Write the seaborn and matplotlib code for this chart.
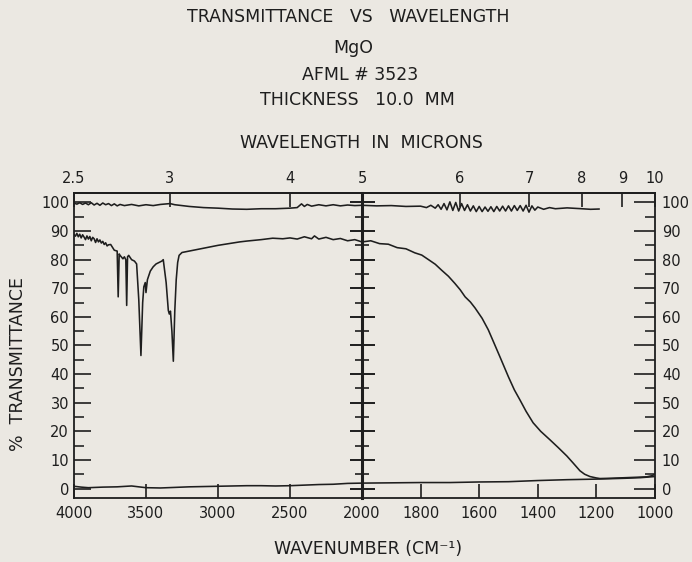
import numpy as np
import pandas as pd
import seaborn as sns
import matplotlib
matplotlib.use("Agg")
from matplotlib import pyplot as plt
from matplotlib.ticker import FixedLocator, MultipleLocator, NullFormatter

sns.set_style("ticks")
plt.rcParams['font.family'] = ['DejaVu Sans']

INK = '#1e1e1e'
PAPER = '#ebe8e2'

# sample spectrum, wavenumber (cm-1) vs % transmittance
sample_wn = [4000, 3990, 3980, 3970, 3960, 3950, 3940, 3930, 3920, 3910, 3900, 3890,
             3880, 3870, 3860, 3850, 3840, 3830, 3820, 3810, 3800, 3790, 3780, 3770,
             3760, 3745, 3720, 3700, 3693, 3686, 3680, 3660, 3650, 3640, 3634, 3628,
             3620, 3600, 3580, 3565, 3550, 3535, 3523, 3515, 3505, 3500, 3490, 3470,
             3450, 3430, 3410, 3390, 3380, 3360, 3345, 3338, 3330, 3320, 3310, 3300,
             3290, 3280, 3270, 3250, 3200, 3150, 3100, 3000, 2900, 2850, 2800, 2700,
             2620, 2550, 2500, 2450, 2400, 2350, 2330, 2300, 2250, 2200, 2150, 2100,
             2050, 2000, 1970, 1940, 1910, 1880, 1850, 1820, 1796, 1770, 1750, 1728,
             1705, 1683, 1665, 1648, 1630, 1614, 1590, 1569, 1550, 1529, 1500, 1480,
             1461, 1440, 1416, 1390, 1358, 1330, 1301, 1280, 1256, 1240, 1222, 1200,
             1188, 1150, 1100, 1050, 1028, 1010, 1000]
sample_t = [88.8, 88.2, 89.2, 88.0, 88.9, 87.6, 88.7, 87.9, 87.0, 88.3, 87.2, 88.1,
            86.6, 87.8, 87.3, 86.0, 87.3, 86.2, 86.9, 85.8, 86.4, 85.3, 85.9, 84.8,
            85.2, 85.3, 83.3, 83.0, 67.0, 82.0, 81.5, 80.3, 81.0, 80.0, 64.0, 81.0,
            81.5, 80.0, 79.5, 78.5, 66.0, 46.5, 65.0, 70.5, 72.0, 68.5, 73.0, 76.0,
            77.5, 78.5, 79.0, 79.5, 80.0, 72.0, 62.3, 61.0, 62.0, 55.0, 44.5, 62.0,
            73.0, 79.0, 81.5, 82.5, 83.0, 83.5, 84.0, 85.0, 85.8, 86.2, 86.5, 87.0,
            87.5, 87.3, 87.6, 87.2, 88.0, 87.3, 88.3, 87.2, 87.8, 87.0, 87.4, 86.6,
            87.0, 86.2, 86.6, 85.6, 85.4, 84.2, 83.8, 82.4, 81.6, 79.8, 78.4, 76.3,
            74.2, 71.7, 69.5, 67.0, 65.2, 63.1, 59.5, 55.5, 51.0, 46.0, 39.0, 34.5,
            31.0, 27.0, 23.0, 20.0, 17.0, 14.3, 11.4, 9.0, 6.2, 5.0, 4.2, 3.7,
            3.5, 3.6, 3.8, 4.0, 4.1, 4.5, 5.0]

# 100 % reference line
ref_wn = [4000, 3980, 3960, 3940, 3920, 3900, 3880, 3860, 3840, 3820, 3800, 3780,
          3760, 3740, 3720, 3700, 3680, 3650, 3600, 3550, 3500, 3450, 3400, 3333,
          3300, 3200, 3100, 3000, 2900, 2800, 2700, 2600, 2500, 2450, 2420, 2400,
          2380, 2350, 2300, 2250, 2200, 2150, 2100, 2050, 2000, 1950, 1900, 1850,
          1800, 1780, 1765, 1750, 1740, 1730, 1720, 1710, 1700, 1690, 1680, 1670,
          1660, 1650, 1640, 1630, 1620, 1610, 1600, 1590, 1580, 1570, 1560, 1550,
          1540, 1530, 1520, 1510, 1500, 1490, 1480, 1470, 1460, 1450, 1440, 1430,
          1420, 1410, 1400, 1380, 1360, 1340, 1300, 1250, 1220, 1190]
ref_t = [99.8, 99.4, 99.9, 99.3, 99.8, 99.2, 99.9, 99.1, 99.7, 99.0, 99.8, 99.2,
         99.6, 98.9, 99.5, 98.8, 99.3, 98.9, 99.3, 98.8, 99.2, 98.9, 99.3, 99.6,
         99.2, 98.6, 98.2, 98.0, 97.7, 97.6, 97.8, 97.8, 98.0, 98.2, 99.5, 98.6,
         99.3, 98.7, 99.2, 98.8, 99.2, 98.8, 99.1, 98.9, 99.0, 98.8, 98.9, 98.6,
         98.7, 98.2, 99.0, 98.0, 99.2, 97.6, 99.6, 97.4, 100.2, 97.2, 100.0, 97.0,
         99.6, 97.2, 99.2, 97.0, 98.8, 96.8, 98.6, 96.8, 98.4, 96.9, 98.5, 96.8,
         98.6, 97.0, 98.7, 97.0, 98.8, 97.0, 98.9, 97.2, 98.9, 97.0, 99.0, 96.6,
         98.8, 97.3, 98.4, 97.6, 98.2, 97.8, 98.1, 97.8, 97.6, 97.7]

# 0 % line
zero_wn = [4000, 3950, 3900, 3800, 3700, 3600, 3550, 3500, 3400, 3300, 3200, 3100,
           3000, 2900, 2800, 2700, 2600, 2500, 2400, 2300, 2200, 2100, 2000, 1900,
           1800, 1700, 1600, 1500, 1400, 1300, 1200, 1100, 1050, 1000]
zero_t = [0.8, 0.5, 0.3, 0.5, 0.6, 0.9, 0.6, 0.3, 0.2, 0.4, 0.6, 0.7,
          0.8, 0.9, 1.0, 1.0, 0.9, 1.0, 1.2, 1.4, 1.5, 1.8, 1.9, 2.0,
          2.1, 2.1, 2.3, 2.4, 2.8, 3.1, 3.3, 3.6, 3.8, 4.2]

left_wn_ticks = [4000, 3500, 3000, 2500, 2000]
right_wn_ticks = [2000, 1800, 1600, 1400, 1200, 1000]
left_um_ticks = [2.5, 3, 4, 5]
right_um_ticks = [6, 7, 8, 9, 10]
y_ticks = [0, 10, 20, 30, 40, 50, 60, 70, 80, 90, 100]
right_y_labels = ['0', '10', '20', '50', '40', '50', '60', '70', '80', '90', '100']

curves = pd.concat([
    pd.DataFrame({'wn': sample_wn, 'T': sample_t, 'curve': 'sample'}),
    pd.DataFrame({'wn': ref_wn, 'T': ref_t, 'curve': 'ref'}),
    pd.DataFrame({'wn': zero_wn, 'T': zero_t, 'curve': 'zero'}),
])


def wn2um(x):
    x = np.asarray(x, dtype=float)
    with np.errstate(divide='ignore', invalid='ignore'):
        return 1e4 / x


fig = plt.figure(figsize=(6.92, 5.62), dpi=100, facecolor=PAPER)
ax1 = fig.add_axes([0.1069, 0.1144, 0.4162, 0.5427])
ax2 = fig.add_axes([0.5231, 0.1144, 0.4234, 0.5427])

for ax, lo, hi in ((ax1, 2000, 4000), (ax2, 1000, 2000)):
    ax.set_facecolor(PAPER)
    for name, g in curves.groupby('curve'):
        g = g[(g.wn >= lo) & (g.wn <= hi)]
        sns.lineplot(data=g, x='wn', y='T', ax=ax, color=INK, linewidth=1.15,
                     estimator=None, sort=False)
    ax.set_xlim(hi, lo)
    ax.set_ylim(-3.2, 103.4)
    ax.set_xlabel('')
    ax.set_ylabel('')
    for s in ax.spines.values():
        s.set_linewidth(1.3)
        s.set_color(INK)

# left panel
ax1.spines['right'].set_visible(False)
ax1.set_xticks(left_wn_ticks[:-1])
ax1.set_xticklabels([str(t) for t in left_wn_ticks[:-1]])
ax1.set_yticks(y_ticks)
ax1.yaxis.set_minor_locator(MultipleLocator(5))
ax1.tick_params(axis='y', which='major', direction='in', length=12, width=1.2,
                left=True, right=False, labelsize=10.5, pad=3.5, colors=INK)
ax1.tick_params(axis='y', which='minor', direction='in', length=7, width=1.2,
                left=True, right=False)
ax1.tick_params(axis='x', direction='in', length=10, width=1.2, labelsize=10.5,
                pad=6, colors=INK, top=False)

# right panel
ax2.spines['left'].set_visible(False)
ax2.set_xticks(right_wn_ticks)
ax2.set_xticklabels([str(t) for t in right_wn_ticks])
ax2.set_yticks(y_ticks)
ax2.set_yticklabels(right_y_labels)
ax2.yaxis.set_minor_locator(MultipleLocator(5))
ax2.yaxis.tick_right()
ax2.tick_params(axis='y', which='major', direction='in', length=15, width=1.2,
                left=False, right=True, labelleft=False, labelright=True,
                labelsize=10.5, pad=5, colors=INK)
ax2.tick_params(axis='y', which='minor', direction='in', length=7, width=1.2,
                left=False, right=True)
ax2.tick_params(axis='x', direction='in', length=10, width=1.2, labelsize=10.5,
                pad=6, colors=INK, top=False)

# heavy divider at 2000 cm-1 with crossing ticks
div = ax2.secondary_yaxis('left')
div.set_yticks(y_ticks)
div.yaxis.set_minor_locator(MultipleLocator(5))
div.yaxis.set_major_formatter(NullFormatter())
div.tick_params(which='major', direction='inout', length=18, width=1.4, colors=INK)
div.tick_params(which='minor', direction='inout', length=10, width=1.2, colors=INK)
div.spines['left'].set_linewidth(2.2)
div.spines['left'].set_color(INK)

# wavelength scale on top
for ax, ticks in ((ax1, left_um_ticks), (ax2, right_um_ticks)):
    top = ax.secondary_xaxis('top', functions=(wn2um, wn2um))
    top.xaxis.set_major_locator(FixedLocator(ticks))
    top.xaxis.set_minor_locator(FixedLocator([]))
    top.set_xticklabels([('%g' % t) for t in ticks])
    top.tick_params(direction='in', length=10, width=1.2, labelsize=10.5, pad=4.5,
                    colors=INK)
    top.spines['top'].set_linewidth(1.3)
    top.spines['top'].set_color(INK)

tkw = dict(ha='center', va='center', color=INK, fontsize=12.5)
fig.text(0.503, 0.970, 'TRANSMITTANCE   VS   WAVELENGTH', **tkw)
fig.text(0.510, 0.9146, 'MgO', **tkw)
fig.text(0.520, 0.8665, 'AFML # 3523', **tkw)
fig.text(0.516, 0.822, 'THICKNESS   10.0  MM', **tkw)
fig.text(0.522, 0.7456, 'WAVELENGTH  IN  MICRONS', **tkw)
fig.text(0.532, 0.023, 'WAVENUMBER (CM\u207b\u00b9)', **tkw)
fig.text(0.026, 0.352, '%  TRANSMITTANCE', rotation=90, **tkw)

fig.savefig('out.png', dpi=100, facecolor=PAPER)
